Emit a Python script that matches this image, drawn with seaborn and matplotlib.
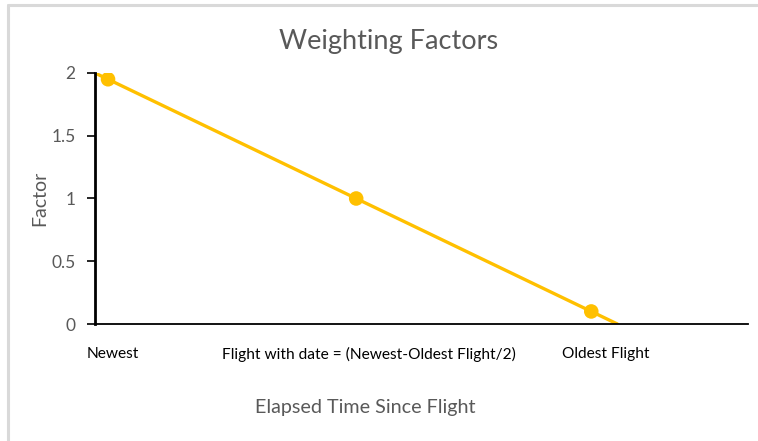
import matplotlib
matplotlib.use("Agg")
import matplotlib.pyplot as plt
from matplotlib.lines import Line2D
import pandas as pd
import seaborn as sns

# Weighting factor falls linearly from 2 (newest flight) to 0 (oldest flight)
line_x = [0.0, 4.0]
line_y = [2.0, 0.0]

# Marked flights
point_x = [0.1, 2.0, 3.8]
point_y = [1.95, 1.0, 0.1]

# Category captions under the axis and where they sit along it
category_labels = ["Newest", "Flight with date = (Newest-Oldest Flight/2)", "Oldest Flight"]
category_pos = [0.14, 2.1, 3.91]

y_ticks = [0, 0.5, 1, 1.5, 2]
y_tick_labels = ["0", "0.5", "1", "1.5", "2"]

gold = "#FFC000"
grey = "#595959"

sns.set_theme(style="white")
plt.rcParams["font.family"] = ["Lato", "DejaVu Sans"]

fig = plt.figure(figsize=(7.58, 4.41), dpi=100)
ax = fig.add_axes([0.1253, 0.2653, 0.8615, 0.5692])

line_df = pd.DataFrame({"x": line_x, "y": line_y})
pts_df = pd.DataFrame({"x": point_x, "y": point_y})

sns.lineplot(data=line_df, x="x", y="y", ax=ax, color=gold, linewidth=2.4)
sns.scatterplot(data=pts_df, x="x", y="y", ax=ax, color=gold, s=110,
                edgecolor="none", zorder=3)

ax.set_xlim(0, 5)
ax.set_ylim(0, 2)
ax.set_yticks(y_ticks)
ax.set_yticklabels(y_tick_labels, color=grey, fontsize=12.5)
ax.set_xticks([])
ax.tick_params(axis="y", which="both", left=True, length=6, width=1.2,
               color="black", pad=8)
for side in ["top", "right"]:
    ax.spines[side].set_visible(False)
for side in ["left", "bottom"]:
    ax.spines[side].set_color("black")
    ax.spines[side].set_linewidth(1.3)
ax.spines["left"].set_linewidth(2)

ax.set_xlabel("")
ax.set_ylabel("Factor", color=grey, fontsize=14)
ax.yaxis.set_label_coords(-0.072, 0.5)

for lbl, xp in zip(category_labels, category_pos):
    ax.text(xp, -0.12, lbl, transform=ax.get_xaxis_transform(), ha="center",
            va="center", fontsize=11.2, color="black")

fig.text(365 / 758, 1 - 408 / 441, "Elapsed Time Since Flight", ha="center",
         va="center", color=grey, fontsize=14.2)
fig.text(389 / 758, 1 - 42 / 441, "Weighting Factors", ha="center",
         va="center", color=grey, fontsize=19.5)

# Chart-area frame edges
fig.add_artist(Line2D([7.5 / 758, 7.5 / 758], [0, 1 - 4.5 / 441],
                      transform=fig.transFigure, color="#d9d9d9", linewidth=2.2))
fig.add_artist(Line2D([7.5 / 758, 757 / 758], [1 - 4.5 / 441, 1 - 4.5 / 441],
                      transform=fig.transFigure, color="#d9d9d9", linewidth=2.2))

fig.savefig("out.png", dpi=100)
